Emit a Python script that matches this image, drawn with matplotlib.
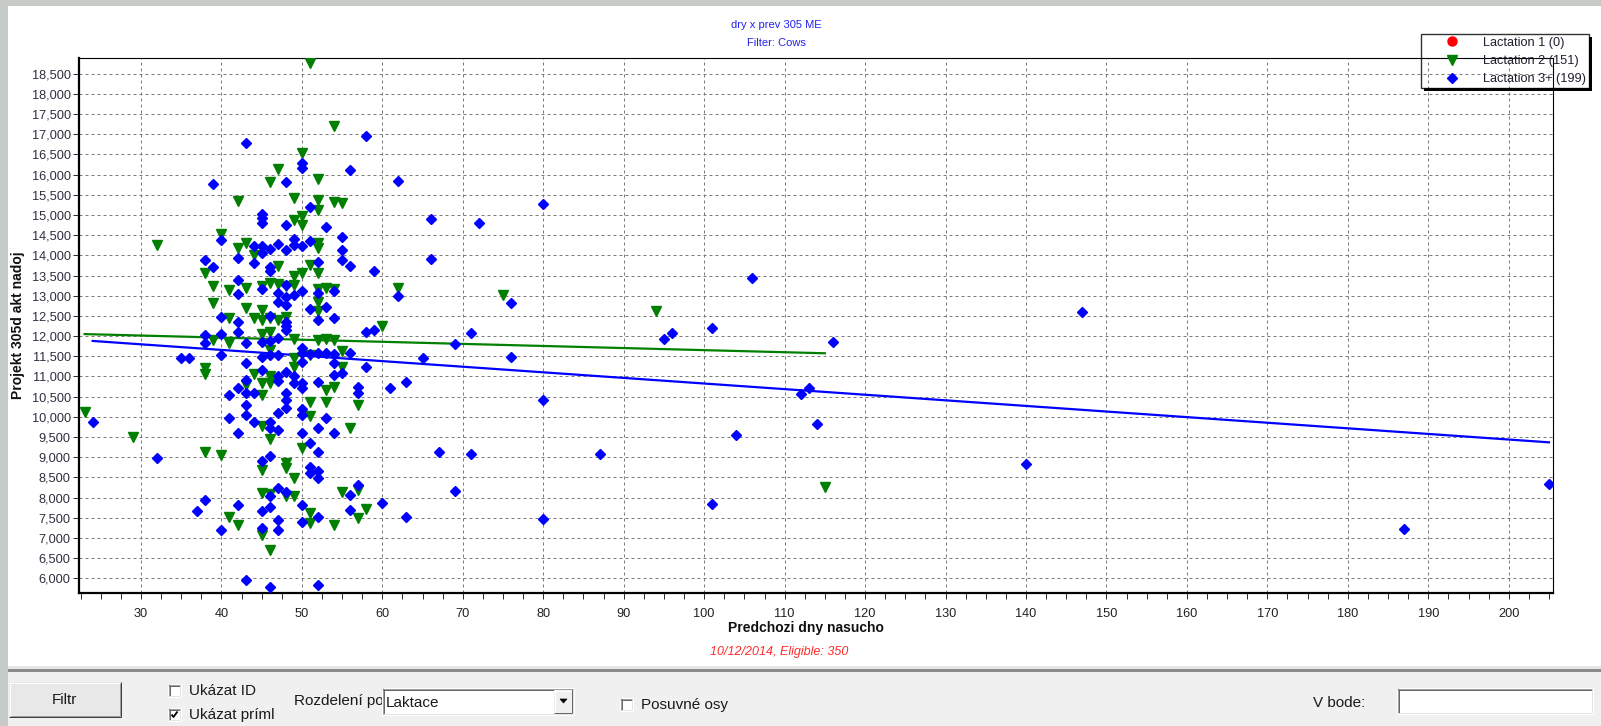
import matplotlib
matplotlib.use('Agg')
import matplotlib.pyplot as plt
from matplotlib.patches import Rectangle, Polygon
from matplotlib.lines import Line2D
from matplotlib.ticker import MultipleLocator, FuncFormatter

plt.rcParams['font.family'] = ['Liberation Sans', 'DejaVu Sans']

# ---------------- data ----------------
title_lines = ["dry x prev 305 ME", "Filter: Cows"]
x_label = "Predchozi dny nasucho"
y_label = "Projekt 305d akt nadoj"
footer_text = "10/12/2014, Eligible: 350"

series_names = ["Lactation 1", "Lactation 2", "Lactation 3+"]
series_counts = [0, 151, 199]

lact1_x = []
lact1_y = []

lact2_x = [54, 50, 47, 46, 52, 42, 49, 52, 52, 54, 55, 49, 50, 50, 40, 43, 52, 52, 42, 44,
           47, 51, 38, 50, 49, 52, 39, 41, 43, 45, 46, 47, 48, 49, 52, 53, 54, 52, 39, 43,
           52, 45, 41, 44, 45, 46, 47, 48, 60, 39, 41, 45, 46, 49, 52, 53, 54, 55, 46,
           38, 38, 49, 49, 51, 55, 44, 46, 45, 46, 43, 45, 53, 54, 51, 53, 57, 51, 45, 56,
           46, 50, 38, 40, 45, 48, 48, 49, 48, 49, 45, 46, 57, 55, 41, 58, 51, 51, 57, 42,
           54, 45, 46,
           51, 32, 23, 29, 62, 75, 94, 115]
lact2_y = [17200, 16540, 16130, 15820, 15880, 15350, 15410, 15370, 15120, 15330, 15300, 14880,
           14970, 14750, 14530, 14310, 14300, 14170, 14170, 14010, 13740, 13760, 13560, 13560,
           13490, 13560, 13230, 13140, 13180, 13230, 13320, 13290, 13230, 13270, 13160, 13180,
           13160, 12850, 12830, 12690, 12610, 12650, 12440, 12440, 12400, 12440, 12400, 12480,
           12240, 11900, 11820, 12050, 12110, 11920, 11900, 11920, 11900, 11620, 11660,
           11200, 11060, 11450, 11240, 11530, 11240, 11060, 11000, 10830, 10830, 10790, 10540,
           10670, 10730, 10380, 10380, 10300, 10010, 9780, 9720, 9450, 9220, 9120, 9060, 8690,
           8850, 8730, 8480, 8040, 8030, 8110, 8090, 8190, 8130, 7530, 7710, 7610, 7370, 7490,
           7330, 7330, 7080, 6710,
           18750, 14250, 10130, 9500, 13180, 13020, 12620, 8270]

lact3_x = [58, 43, 50, 50, 56, 48, 39, 62, 51, 45, 45, 45, 48, 53, 40, 44, 45, 46, 47, 48,
           49, 49, 50, 51, 55, 42, 45, 46, 46, 44, 52, 55, 55, 56, 59, 38, 39, 42, 42, 45,
           48, 47, 49, 50, 48, 48, 47, 52, 54, 51, 53, 40, 42, 46, 48, 48, 48, 52, 54, 58,
           59, 38, 38, 40, 42, 43, 45, 46, 47, 50, 50, 51, 52, 53, 54, 56, 35, 36, 40,
           43, 45, 46, 47, 50, 54, 58, 45, 48, 47, 47, 54, 55, 49, 43, 42, 41, 43, 44, 49,
           50, 50, 52, 57, 57, 61, 48, 48, 43, 48, 50, 50, 53, 41, 43, 44, 46, 46, 47, 47,
           52, 54, 42, 50, 51, 52, 45, 46, 51, 51, 52, 52, 47, 48, 46, 57, 56, 38, 42, 46,
           50, 60, 37, 45, 56, 52, 47, 50, 40, 45, 47, 43, 46, 52,
           80, 66, 72, 66, 62, 76, 71, 95, 96, 69, 65, 76, 63, 80, 67, 71, 87, 69, 63, 80,
           24, 32,
           106, 101, 116, 112, 113, 114, 104, 140, 101, 147, 187, 205]
lact3_y = [16960, 16770, 16280, 16150, 16110, 15820, 15770, 15850, 15190, 15020, 14920, 14790,
           14740, 14710, 14380, 14220, 14220, 14150, 14280, 14120, 14400, 14260, 14230, 14360,
           14460, 13930, 14050, 13720, 13600, 13800, 13840, 14130, 13890, 13740, 13620, 13890,
           13720, 13390, 13040, 13160, 13270, 13060, 13020, 13120, 12980, 12770, 12840, 13060,
           13120, 12660, 12730, 12470, 12360, 12500, 12360, 12250, 12150, 12400, 12440, 12090,
           12140, 12030, 11820, 12050, 12110, 11840, 11860, 11890, 11950, 11700, 11580, 11560,
           11590, 11590, 11560, 11590, 11460, 11460, 11530,
           11340, 11490, 11530, 11530, 11370, 11330, 11240, 11160, 11100, 11000, 10900, 11040,
           11080, 11010, 10910, 10710, 10540, 10580, 10600, 10830, 10830, 10710, 10870, 10750,
           10600, 10710, 10580, 10420, 10300, 10210, 10190, 10050, 9970, 9970, 10050, 9880,
           9880, 9720, 10090, 9680, 9720, 9590, 9590, 9610, 9360, 9140, 8920, 9020, 8770, 8620,
           8650, 8480, 8230, 8150, 8030, 8320, 8070, 7940, 7820, 7760, 7820, 7860, 7660, 7660,
           7700, 7530, 7450, 7410, 7200, 7260, 7190, 5960, 5800, 5840,
           15270, 14890, 14790, 13900, 13000, 12810, 12070, 11920, 12070, 11800, 11450, 11490,
           10870, 10420, 9120, 9070, 9070, 8170, 7510, 7480,
           9870, 8980,
           13450, 12200, 11850, 10570, 10720, 9820, 9550, 8830, 7840, 12600, 7220, 8350]

trend2_x = [23, 115]
trend2_y = [12050, 11575]
trend3_x = [24, 205]
trend3_y = [11880, 9370]

x_limits = (22.3, 205.5)
y_limits = (5640, 18885)

# bottom toolbar texts
btn_text = "Filtr"
chk_texts = ["Ukázat ID", "Ukázat príml", "Posuvné osy"]
chk_states = [False, True, False]
split_label = "Rozdelení po"
combo_value = "Laktace"
point_label = "V bode:"

# ---------------- figure ----------------
W, H = 1601, 726
fig = plt.figure(figsize=(W / 100, H / 100), dpi=100)
fig.patch.set_facecolor('white')


def fx(px):
    return px / W


def fy(py):
    return 1 - py / H


def rect(x0, y0, x1, y1, fc, ec='none', lw=0.0, z=0.5):
    r = Rectangle((fx(x0), fy(y1)), (x1 - x0) / W, (y1 - y0) / H,
                  transform=fig.transFigure, facecolor=fc, edgecolor=ec,
                  linewidth=lw, zorder=z)
    fig.add_artist(r)


def line(xs, ys, color, lw=1.0, z=6):
    fig.add_artist(Line2D([fx(v) for v in xs], [fy(v) for v in ys],
                          transform=fig.transFigure, color=color,
                          linewidth=lw * 0.72, zorder=z, solid_capstyle='butt'))


def sunken(x0, y0, x1, y1, fc='white', z=5):
    rect(x0, y0, x1, y1, fc, z=z)
    line([x0, x1], [y0 + 0.5, y0 + 0.5], '#a0a0a0', 1, z + 0.1)
    line([x0 + 0.5, x0 + 0.5], [y0, y1], '#a0a0a0', 1, z + 0.1)
    line([x0 + 1, x1 - 1], [y0 + 1.5, y0 + 1.5], '#696969', 1, z + 0.1)
    line([x0 + 1.5, x0 + 1.5], [y0 + 1, y1 - 1], '#696969', 1, z + 0.1)
    line([x0, x1], [y1 - 0.5, y1 - 0.5], '#ffffff', 1, z + 0.1)
    line([x1 - 0.5, x1 - 0.5], [y0, y1], '#ffffff', 1, z + 0.1)
    line([x0 + 1, x1 - 1], [y1 - 1.5, y1 - 1.5], '#e3e3e3', 1, z + 0.1)
    line([x1 - 1.5, x1 - 1.5], [y0 + 1, y1 - 1], '#e3e3e3', 1, z + 0.1)


# window chrome
rect(0, 0, W, 6, '#c7cbc7', z=0.2)
rect(0, 0, 8, H, '#c7cbc7', z=0.3)
rect(8, 666, W, 669, '#e6e6e6', z=0.4)
rect(8, 669, W, 672, '#8a8a8a', z=0.4)
rect(8, 672, W, H, '#f0f0f0', z=0.4)

# ---------------- axes ----------------
ax = fig.add_axes([fx(79), fy(593), (1553 - 79) / W, (593 - 58) / H])
ax.set_facecolor('white')
ax.set_xlim(*x_limits)
ax.set_ylim(*y_limits)

ax.plot(trend2_x, trend2_y, color='#008000', lw=1.6, zorder=2)
ax.plot(trend3_x, trend3_y, color='#0000ff', lw=1.6, zorder=2)

labels = [f"{n} ({c})" for n, c in zip(series_names, series_counts)]
h1, = ax.plot(lact1_x, lact1_y, ls='none', marker='o', ms=6.5, color='#ff0000',
              label=labels[0], zorder=3)
h2, = ax.plot(lact2_x, lact2_y, ls='none', marker='v', ms=7.5, color='#007f00',
              mec='#007f00', label=labels[1], zorder=3)
h3, = ax.plot(lact3_x, lact3_y, ls='none', marker='D', ms=5.3, color='#0000ff',
              mec='#0000ff', label=labels[2], zorder=4)

ax.xaxis.set_major_locator(MultipleLocator(10))
ax.xaxis.set_minor_locator(MultipleLocator(2.5))
ax.yaxis.set_major_locator(MultipleLocator(500))
ax.yaxis.set_major_formatter(FuncFormatter(lambda v, p: f"{v:,.0f}"))

ax.grid(True, which='major', color='#7a7a7a', linestyle=(0, (3, 3)), linewidth=0.72)
ax.set_axisbelow(True)

ax.tick_params(axis='both', which='both', direction='out', length=4, width=0.72,
               color='#303030')
ax.tick_params(axis='y', labelsize=9.2, labelcolor='#2e2e3e', pad=2)
ax.tick_params(axis='x', labelsize=9.2, labelcolor='#202020', pad=7)

for s in ['left', 'bottom']:
    ax.spines[s].set_linewidth(1.6)
for s in ['top', 'right']:
    ax.spines[s].set_linewidth(0.8)
for s in ax.spines.values():
    s.set_color('black')

ax.set_xlabel(x_label, fontsize=10, fontweight='bold', color='#111111', va='center')
ax.xaxis.set_label_coords((806 - 79) / 1474, (593 - 628) / 535)
ax.set_ylabel(y_label, fontsize=10, fontweight='bold', color='#111111', va='center')
ax.yaxis.set_label_coords((17.5 - 79) / 1474, 0.5)

# titles and footer
fig.text(fx(776), fy(24.5), title_lines[0], ha='center', va='center', fontsize=8,
         color='#2222ee')
fig.text(fx(776), fy(43), title_lines[1], ha='center', va='center', fontsize=8,
         color='#2222ee')
fig.text(fx(779), fy(652), footer_text, ha='center', va='center', fontsize=9,
         style='italic', color='#ff2a2a')

# legend
leg = ax.legend(handles=[h1, h2, h3], loc='upper left',
                bbox_to_anchor=(fx(1421), fy(34)), bbox_transform=fig.transFigure,
                borderaxespad=0, fontsize=9.2, frameon=True, fancybox=False,
                edgecolor='black', facecolor='none', framealpha=None,
                borderpad=0.22, labelspacing=0.485, handlelength=4.45,
                handletextpad=0.18, markerscale=1.0)
leg.get_frame().set_linewidth(1.0)
for t in leg.get_texts():
    t.set_color('#1e1e2e')

fig.canvas.draw()
bb = leg.get_frame().get_window_extent()
# shadow (pixel coords, top-left origin)
lx0, lx1 = bb.x0, bb.x1
ly0, ly1 = H - bb.y1, H - bb.y0
rect(lx1, ly0 + 3, lx1 + 3, ly1 + 3, 'black', z=7)
rect(lx0 + 3, ly1, lx1 + 3, ly1 + 3, 'black', z=7)

# ---------------- toolbar ----------------
uifont = dict(fontsize=11, color='#1a1a1a', va='center')
# button
rect(9, 682, 121, 717, '#e8e8e8', z=5)
line([9, 121], [682.5, 682.5], '#ffffff', 1)
line([9.5, 9.5], [682, 717], '#ffffff', 1)
line([9, 121], [716.5, 716.5], '#404040', 1)
line([120.5, 120.5], [682, 717], '#404040', 1)
line([10, 120], [715.5, 715.5], '#a0a0a0', 1)
line([119.5, 119.5], [683, 716], '#a0a0a0', 1)
fig.text(fx(64), fy(700), btn_text, ha='center', zorder=8, **uifont)

# checkboxes
chk_boxes = [(168, 684), (168, 708), (620, 698)]
for (cx, cy), txt, st in zip(chk_boxes, chk_texts, chk_states):
    sunken(cx, cy, cx + 13, cy + 13, 'white', z=5)
    fig.text(fx(cx + 21), fy(cy + 7), txt, ha='left', zorder=8, **uifont)
    if st:
        line([cx + 3.5, cx + 5.5, cx + 9.5], [cy + 6.5, cy + 9, cy + 3.5], '#000000', 1.8, 8)

# combobox label + combo
fig.text(fx(294), fy(701), split_label, ha='left', zorder=4, **uifont)
sunken(382, 688, 574, 715, 'white', z=5)
fig.text(fx(386), fy(703), combo_value, ha='left', zorder=8, **uifont)
rect(554, 690, 572, 713, '#f0f0f0', z=6)
line([554, 572], [690.5, 690.5], '#ffffff', 1, 6.5)
line([554.5, 554.5], [690, 713], '#ffffff', 1, 6.5)
line([554, 572], [712.5, 712.5], '#696969', 1, 6.5)
line([571.5, 571.5], [690, 713], '#696969', 1, 6.5)
fig.add_artist(Polygon([[fx(560), fy(699)], [fx(567), fy(699)], [fx(563.5), fy(703)]],
                       closed=True, transform=fig.transFigure, facecolor='black',
                       edgecolor='black', linewidth=0.5, zorder=7))

# V bode
fig.text(fx(1313), fy(703), point_label, ha='left', zorder=8, **uifont)
sunken(1397, 688, 1593, 714, 'white', z=5)

fig.savefig('out.png', dpi=100, facecolor=fig.get_facecolor())
